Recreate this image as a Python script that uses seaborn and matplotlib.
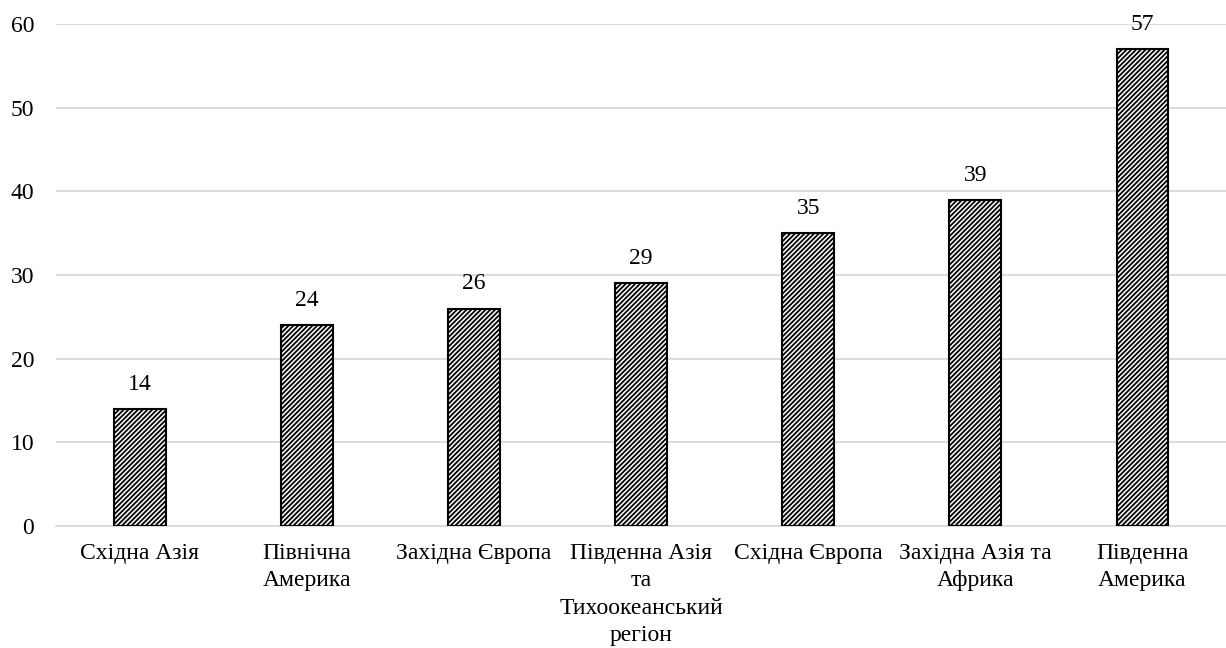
import matplotlib
matplotlib.use("Agg")
import matplotlib.pyplot as plt
import seaborn as sns
import pandas as pd

categories = [
    "Східна Азія",
    "Північна\nАмерика",
    "Західна Європа",
    "Південна Азія\nта\nТихоокеанський\nрегіон",
    "Східна Європа",
    "Західна Азія та\nАфрика",
    "Південна\nАмерика",
]
values = [14, 24, 26, 29, 35, 39, 57]

df = pd.DataFrame({"region": categories, "value": values})

sns.set_theme(style="white")
plt.rcParams["font.family"] = ["Liberation Serif", "DejaVu Serif"]
plt.rcParams["hatch.linewidth"] = 1.3
plt.rcParams["hatch.color"] = "black"

fig = plt.figure(figsize=(12.26, 6.48), dpi=100)
ax = fig.add_axes([0.046, 0.188, 0.954, 0.775])

sns.barplot(data=df, x="region", y="value", ax=ax, width=0.31,
            color="white", edgecolor="black", linewidth=1.5, zorder=3)
for p in ax.patches:
    p.set_hatch("///////")

for p, v in zip(ax.patches, values):
    ax.text(p.get_x() + p.get_width() / 2, v + 1.7, f"{v}",
            ha="center", va="bottom", fontsize=17, color="black")

ax.set_ylim(0, 60)
ax.set_yticks(range(0, 61, 10))
ax.set_xlim(-0.5, len(categories) - 0.5)
ax.yaxis.grid(True, color="#d9d9d9", linewidth=1.3, zorder=0)
ax.set_axisbelow(True)
for s in ["top", "right", "left"]:
    ax.spines[s].set_visible(False)
ax.spines["bottom"].set_color("#d9d9d9")
ax.spines["bottom"].set_linewidth(1.3)
ax.set_xlabel("")
ax.set_ylabel("")
ax.tick_params(axis="both", length=0, labelsize=17, colors="black")
ax.tick_params(axis="y", pad=16)
ax.tick_params(axis="x", pad=12)
for lbl in ax.get_xticklabels():
    lbl.set_linespacing(1.4)

fig.savefig("out.png", dpi=100)
